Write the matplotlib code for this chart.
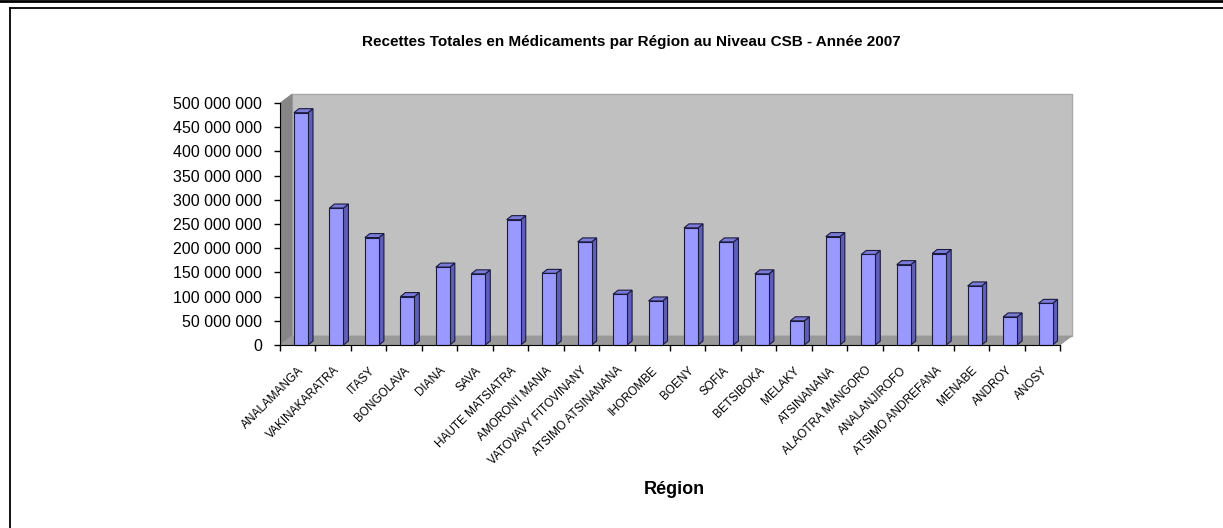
import matplotlib.pyplot as plt
from matplotlib.patches import Polygon
from matplotlib.lines import Line2D

plt.rcParams['font.family'] = ['Liberation Sans', 'DejaVu Sans']

# données (millions)
regions = ['ANALAMANGA', 'VAKINAKARATRA', 'ITASY', 'BONGOLAVA', 'DIANA', 'SAVA',
           'HAUTE MATSIATRA', "AMORON'I MANIA", 'VATOVAVY FITOVINANY',
           'ATSIMO ATSINANANA', 'IHOROMBE', 'BOENY', 'SOFIA', 'BETSIBOKA',
           'MELAKY', 'ATSINANANA', 'ALAOTRA MANGORO', 'ANALANJIROFO',
           'ATSIMO ANDREFANA', 'MENABE', 'ANDROY', 'ANOSY']
recettes = [480, 283, 222, 100, 161, 147, 259, 148, 213, 105, 91,
            242, 213, 147, 50, 224, 187, 166, 189, 122, 58, 86]
y_ticks = list(range(0, 501, 50))
y_labels = ['{:,}'.format(v * 1000000).replace(',', ' ') for v in y_ticks]

W, H = 1223, 528
fig = plt.figure(figsize=(W / 100, H / 100), dpi=100)

# zone du graphique en pixels
left, right, top, bottom = 280, 1090, 85, 352
y0_px, y500_px = 345, 103
ax = fig.add_axes([left / W, 1 - bottom / H, (right - left) / W, (bottom - top) / H])
px_x = 780 / len(regions)
px_y = (y0_px - y500_px) / 500
ax.set_xlim(0, (right - left) / px_x)
ax.set_ylim(-(bottom - y0_px) / px_y, 500 + (y500_px - top) / px_y)
ax.patch.set_visible(False)

n = len(regions)
dx, dy = 12 / px_x, 9 / px_y

# murs et sol
ax.add_patch(Polygon([(dx, dy), (n + dx, dy), (n + dx, 500 + dy), (dx, 500 + dy)],
                     closed=True, fc='#c0c0c0', ec='#a8a8a8', lw=1, zorder=0))
ax.add_patch(Polygon([(0, 0), (dx, dy), (dx, 500 + dy), (0, 500)],
                     closed=True, fc='#858585', ec='#858585', lw=0.5, zorder=0))
ax.add_patch(Polygon([(0, 0), (n, 0), (n + dx, dy), (dx, dy)],
                     closed=True, fc='#999999', ec='#999999', lw=0.5, zorder=0))

# barres 3D
bw = 14 / px_x
off = 14 / px_x
bdx, bdy = 5 / px_x, 4 / px_y
xs = [i + off + bw / 2 for i in range(n)]
ax.bar(xs, recettes, width=bw, color='#9999ff', edgecolor='#1a1a40', lw=0.8, zorder=3)
for x, v in zip(xs, recettes):
    x0, x1 = x - bw / 2, x + bw / 2
    ax.add_patch(Polygon([(x1, 0), (x1 + bdx, bdy), (x1 + bdx, v + bdy), (x1, v)],
                         closed=True, fc='#5f5fb5', ec='#1a1a40', lw=0.8, zorder=2))
    ax.add_patch(Polygon([(x0, v), (x1, v), (x1 + bdx, v + bdy), (x0 + bdx, v + bdy)],
                         closed=True, fc='#7c7cd8', ec='#1a1a40', lw=0.8, zorder=2))

# axes
for s in ['top', 'right']:
    ax.spines[s].set_visible(False)
ax.spines['left'].set_bounds(0, 500)
ax.spines['bottom'].set_position(('data', 0))
ax.spines['bottom'].set_bounds(0, n)
ax.spines['left'].set_zorder(4)
ax.spines['bottom'].set_zorder(4)

ax.set_yticks(y_ticks)
ax.set_yticklabels(y_labels)
ax.tick_params(axis='y', length=4, width=1, pad=9, labelsize=11.5)

ax.set_xticks(range(n + 1))
ax.set_xticklabels([])
ax.set_xticks([i + 0.5 + 4 / px_x for i in range(n)], minor=True)
ax.set_xticklabels(regions, minor=True, rotation=45, ha='right', va='center',
                   rotation_mode='anchor', fontsize=8.5)
ax.tick_params(axis='x', which='major', length=4, width=1, direction='out')
ax.tick_params(axis='x', which='minor', length=0, pad=17)

fig.text(362 / W, 1 - 42 / H,
         'Recettes Totales en Médicaments par Région au Niveau CSB - Année 2007',
         ha='left', va='center', fontsize=11, fontweight='bold')
fig.text(674 / W, 1 - 490 / H, 'Région', ha='center', va='center',
         fontsize=13, fontweight='bold')

# cadre
fig.add_artist(Line2D([0, 1], [1 - 1.2 / H] * 2, color='black', lw=2))
fig.add_artist(Line2D([9.5 / W, 1], [1 - 8 / H] * 2, color='black', lw=1.3))
fig.add_artist(Line2D([9.5 / W] * 2, [0, 1 - 8 / H], color='black', lw=1.3))

fig.savefig('out.png', dpi=100)
